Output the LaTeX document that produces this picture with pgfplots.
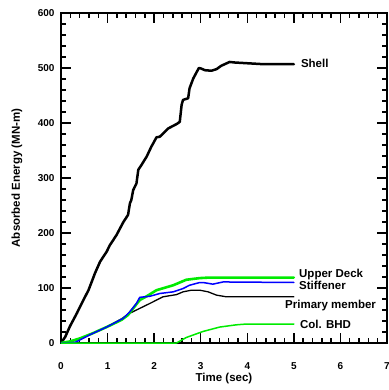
\documentclass[border=0pt]{standalone}
\usepackage{pgfplots}
\pgfplotsset{compat=1.18}
\usepackage{fontspec}
\setmainfont{Liberation Sans}
\definecolor{lgreen}{RGB}{0,235,0}
\definecolor{lblue}{RGB}{0,0,255}
\begin{document}
\begin{tikzpicture}
\begin{axis}[
  scale only axis, width=326pt, height=330pt,
  xmin=0, xmax=7, ymin=0, ymax=600,
  xtick={0,1,2,3,4,5,6,7}, ytick={0,100,200,300,400,500,600},
  minor x tick num=4, minor y tick num=4,
  tick align=inside,
  major tick length=10pt, minor tick length=5pt,
  xtick style={line width=1.5pt, draw=black},
  ytick style={line width=1.5pt, draw=black},
  axis line style={line width=1.8pt},
  /pgf/number format/assume math mode=true,
  ticklabel style={font=\bfseries\fontsize{10}{12}\selectfont},
  xticklabel style={yshift=-16pt},
  yticklabel style={xshift=-3pt},
  xlabel={Time (sec)}, ylabel={Absorbed Energy (MN-m)},
  label style={font=\bfseries\fontsize{11.5}{13}\selectfont},
  xlabel style={at={(axis description cs:0.5,-0.109)}, anchor=center},
  ylabel style={at={(axis description cs:-0.135,0.5)}, anchor=center},
  every axis plot/.append style={line join=round, line cap=round},
]
\addplot[black, line width=2.5pt] coordinates {
(0,0)(0.09,11)(0.19,30)(0.34,54)(0.48,78)(0.59,96)(0.69,118)(0.73,127)(0.84,148)(0.98,166)(1.05,178)(1.19,196)(1.34,220)(1.44,233)(1.48,254)(1.51,260)(1.55,278)(1.62,290)(1.66,315)(1.73,324)(1.84,339)(1.94,357)(1.98,363)(2.05,374)(2.12,375)(2.23,384)(2.30,390)(2.48,398)(2.55,402)(2.59,433)(2.62,442)(2.73,445)(2.76,463)(2.84,481)(2.96,500)(3.01,499)(3.09,496)(3.23,495)(3.34,498)(3.44,504)(3.62,511)(3.73,510)(4.33,507)(5.0,507)
};
\addplot[black, line width=1.3pt] coordinates {
(0,0)(0.2,2)(0.41,8)(0.69,18)(0.98,29)(1.30,44)(1.45,53)(1.62,60)(1.91,72)(2.19,84)(2.48,88)(2.62,93)(2.80,96)(2.98,96)(3.16,93)(3.34,87)(3.55,84)(5.0,84)
};
\addplot[lgreen, line width=2.6pt] coordinates {
(0,0)(0.2,3)(0.41,8.5)(0.69,18)(0.98,29)(1.30,42)(1.44,51)(1.55,63)(1.69,78)(1.84,85)(2.05,96)(2.41,105)(2.69,115)(2.98,118)(3.19,119)(5.0,119)
};
\addplot[lblue, line width=1.5pt] coordinates {
(0,0)(0.3,1)(0.44,7)(0.62,15)(0.98,29)(1.34,45)(1.48,57)(1.62,72)(1.69,83)(1.91,85)(2.12,90)(2.41,93)(2.62,99)(2.76,105)(2.98,110)(3.05,110)(3.26,107)(3.48,111)(5.0,110)
};
\addplot[lgreen, line width=1.5pt] coordinates {
(0,0)(2.48,0)(2.69,10)(3.05,21)(3.41,29)(3.76,33)(3.98,34.5)(5.0,34.5)
};
\begin{scope}[every node/.style={font=\bfseries\fontsize{11.5}{13}\selectfont, anchor=west, inner sep=0pt}]
\node at (axis cs:5.15,509) {Shell};
\node at (axis cs:5.11,124) {Upper Deck};
\node at (axis cs:5.11,104) {Stiffener};
\node at (axis cs:4.81,69) {Primary member};
\node at (axis cs:5.13,33) {Col. BHD};
\end{scope}
\end{axis}
\pgfresetboundingbox
\path[use as bounding box] (current axis.south west) ++(-61pt,-47pt) rectangle ++(388pt,390pt);
\end{tikzpicture}
\end{document}
